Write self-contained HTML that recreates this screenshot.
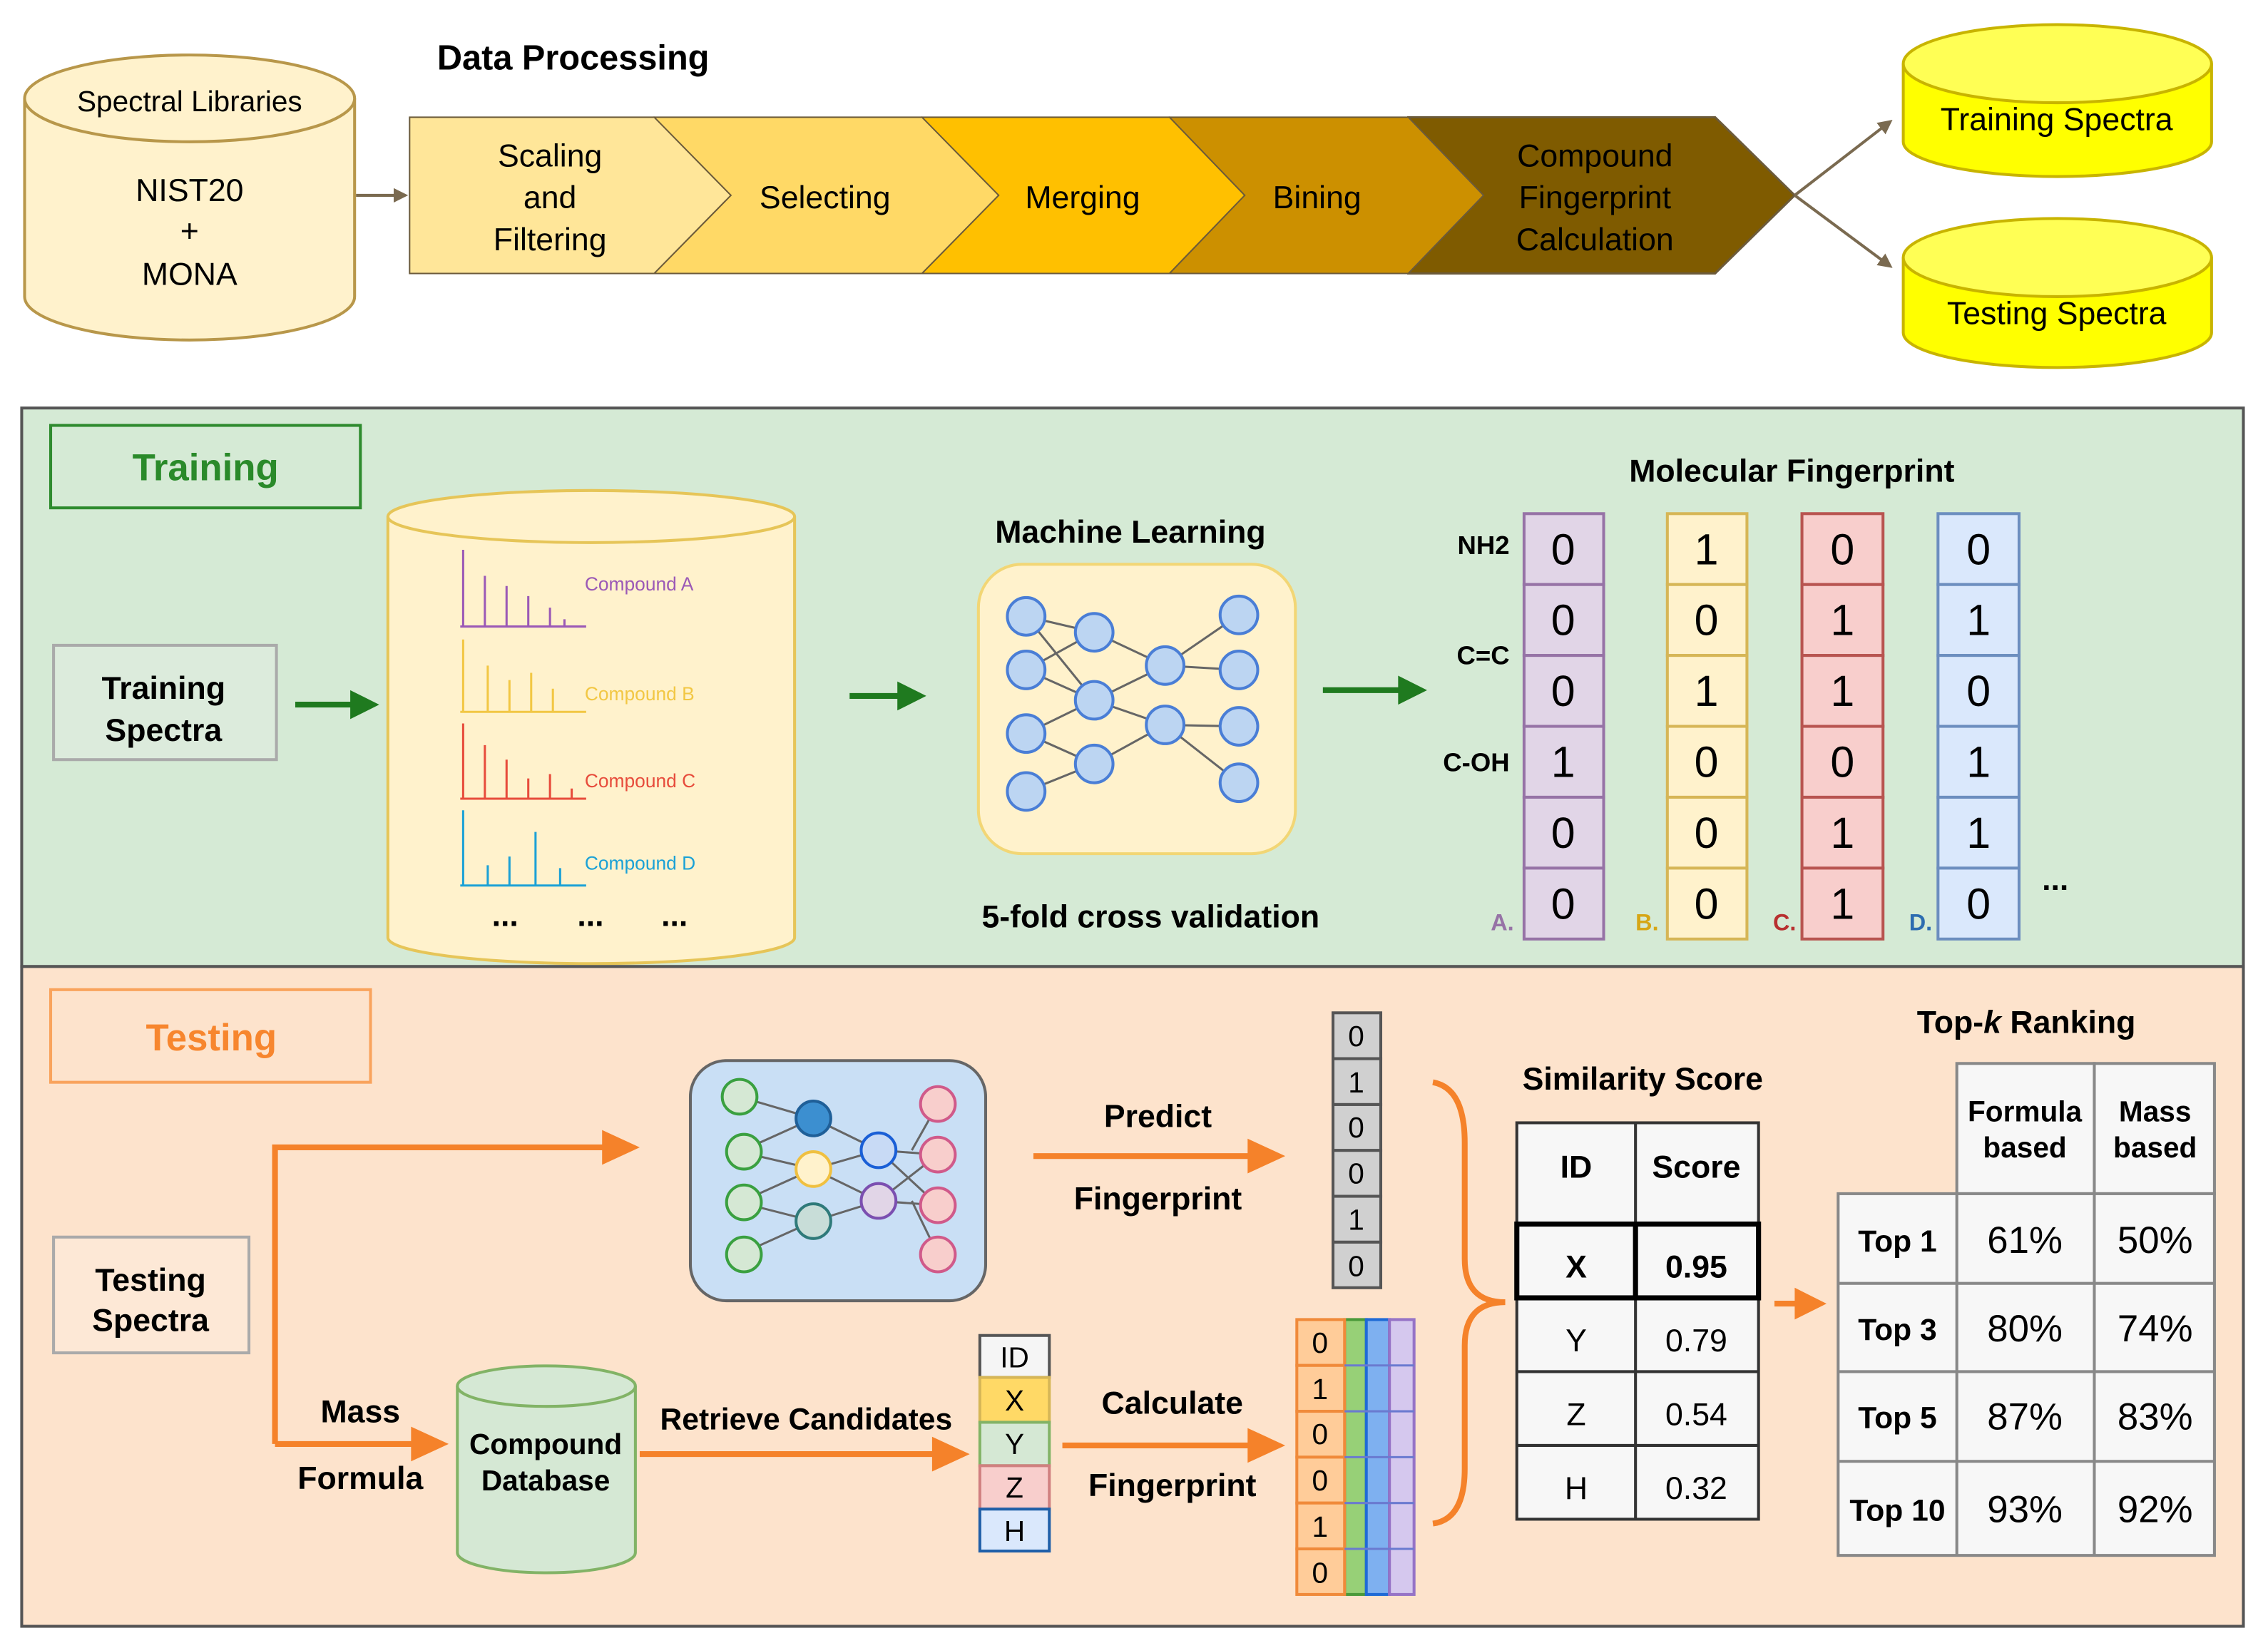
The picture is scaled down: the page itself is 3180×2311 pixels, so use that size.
<!DOCTYPE html>
<html><head><meta charset="utf-8"><style>
html,body{margin:0;padding:0;background:#fff}
svg{display:block}
text{font-family:"Liberation Sans",sans-serif}
.b{font-weight:bold}
</style></head><body>
<svg width="3180" height="2311" viewBox="0 0 1567 1139" preserveAspectRatio="none" xmlns="http://www.w3.org/2000/svg">
<defs>
<marker id="ag" markerWidth="10" markerHeight="10" refX="8" refY="5" orient="auto" markerUnits="userSpaceOnUse"><path d="M0,0 L10,5 L0,10 Z" fill="#7a6a50"/></marker>
</defs>
<rect width="1567" height="1139" fill="#fff"/>

<!-- Top section -->
<text x="302" y="48" font-size="24" class="b">Data Processing</text>
<path d="M17,68 L17,205 A114,30 0 0 0 245,205 L245,68" fill="#fff2cc" stroke="#b8974a" stroke-width="2"/>
<ellipse cx="131" cy="68" rx="114" ry="30" fill="#fff2cc" stroke="#b8974a" stroke-width="2"/>
<text x="131" y="77" font-size="20" text-anchor="middle">Spectral Libraries</text>
<text x="131" y="139" font-size="22" text-anchor="middle">NIST20</text>
<text x="131" y="167" font-size="22" text-anchor="middle">+</text>
<text x="131" y="197" font-size="22" text-anchor="middle">MONA</text>
<line x1="246" y1="135" x2="280" y2="135" stroke="#7a6a50" stroke-width="2" marker-end="url(#ag)"/>

<polygon points="973,81 1185,81 1240,135 1185,189 973,189" fill="#7f5b00" stroke="#6b5a3a" stroke-width="1.5"/>
<polygon points="808,81 973,81 1025,135 973,189 808,189" fill="#cc9000" stroke="#6b5a3a" stroke-width="1"/>
<polygon points="637,81 808,81 860,135 808,189 637,189" fill="#ffc000" stroke="#6b5a3a" stroke-width="1"/>
<polygon points="452,81 637,81 690,135 637,189 452,189" fill="#ffd966" stroke="#6b5a3a" stroke-width="1"/>
<polygon points="283,81 452,81 505,135 452,189 283,189" fill="#ffe699" stroke="#6b5a3a" stroke-width="1"/>
<g font-size="22" text-anchor="middle">
<text x="380" y="115">Scaling</text><text x="380" y="144">and</text><text x="380" y="173">Filtering</text>
<text x="570" y="144">Selecting</text>
<text x="748" y="144">Merging</text>
<text x="910" y="144">Bining</text>
<text x="1102" y="115">Compound</text><text x="1102" y="144">Fingerprint</text><text x="1102" y="173">Calculation</text>
</g>
<line x1="1240" y1="135" x2="1306" y2="84" stroke="#7a6a50" stroke-width="2" marker-end="url(#ag)"/>
<line x1="1240" y1="135" x2="1306" y2="184" stroke="#7a6a50" stroke-width="2" marker-end="url(#ag)"/>

<path d="M1315,44 L1315,98 A106.5,24 0 0 0 1528,98 L1528,44" fill="#ffff00" stroke="#c8b400" stroke-width="2"/>
<ellipse cx="1421.5" cy="44" rx="106.5" ry="27" fill="#ffff55" stroke="#c8b400" stroke-width="2"/>
<text x="1421" y="90" font-size="22" text-anchor="middle">Training Spectra</text>
<path d="M1315,178 L1315,230 A106.5,24 0 0 0 1528,230 L1528,178" fill="#ffff00" stroke="#c8b400" stroke-width="2"/>
<ellipse cx="1421.5" cy="178" rx="106.5" ry="27" fill="#ffff55" stroke="#c8b400" stroke-width="2"/>
<text x="1421" y="224" font-size="22" text-anchor="middle">Testing Spectra</text>

<!-- Training panel -->
<rect x="15" y="282" width="1535" height="386" fill="#d5ead5" stroke="#555" stroke-width="2"/>
<rect x="35" y="294" width="214" height="57" fill="#d5ead5" stroke="#2e8b2e" stroke-width="2"/>
<text x="142" y="332" font-size="26" class="b" fill="#2a8a2a" text-anchor="middle">Training</text>
<rect x="37" y="446" width="154" height="79" fill="#dcebdc" stroke="#aaa" stroke-width="2"/>
<text x="113" y="483" font-size="22" class="b" text-anchor="middle">Training</text>
<text x="113" y="512" font-size="22" class="b" text-anchor="middle">Spectra</text>
<g fill="#1f7a1f" stroke="#1f7a1f" stroke-width="4">
<line x1="204" y1="487" x2="245" y2="487"/><polygon points="262,487 242,477 242,497" stroke="none"/>
<line x1="587" y1="481" x2="623" y2="481"/><polygon points="640,481 620,471 620,491" stroke="none"/>
<line x1="914" y1="477" x2="968" y2="477"/><polygon points="986,477 966,467 966,487" stroke="none"/>
</g>
<path d="M268,357 L268,648 A140.5,18 0 0 0 549,648 L549,357" fill="#fff2cc" stroke="#e6c558" stroke-width="2"/>
<ellipse cx="408.5" cy="357" rx="140.5" ry="18" fill="#fff2cc" stroke="#e6c558" stroke-width="2"/>
<g fill="none" stroke-width="1.5">
<path d="M318,433 H405 M320,433 V380 M335,433 V398 M350,433 V405 M365,433 V412 M380,433 V420 M390,433 V428" stroke="#9b59b6"/>
<path d="M318,492 H405 M320,492 V442 M337,492 V460 M352,492 V470 M367,492 V465 M382,492 V476" stroke="#f2c744"/>
<path d="M318,552 H405 M320,552 V500 M335,552 V515 M350,552 V525 M365,552 V538 M380,552 V535 M395,552 V545" stroke="#e74c3c"/>
<path d="M318,612 H405 M320,612 V560 M337,612 V598 M352,612 V592 M370,612 V575 M387,612 V600" stroke="#1ba1d6"/>
</g>
<text x="404" y="408" font-size="13" fill="#9b59b6">Compound A</text>
<text x="404" y="484" font-size="13" fill="#f2c744">Compound B</text>
<text x="404" y="544" font-size="13" fill="#e74c3c">Compound C</text>
<text x="404" y="601" font-size="13" fill="#1ba1d6">Compound D</text>
<g font-size="22" class="b" text-anchor="middle"><text x="349" y="640">...</text><text x="408" y="640">...</text><text x="466" y="640">...</text></g>

<text x="781" y="375" font-size="22" class="b" text-anchor="middle">Machine Learning</text>
<rect x="676" y="390" width="219" height="200" rx="30" fill="#fff2cc" stroke="#f2d675" stroke-width="2"/>
<g stroke="#666" stroke-width="1.5">
<path d="M709,426 L756,437 M709,463 L756,437 M709,463 L756,484 M709,507 L756,484 M709,507 L756,528 M709,547 L756,528 M756,437 L805,460 M756,484 L805,460 M756,484 L805,501 M756,528 L805,501 M805,460 L856,425 M805,460 L856,463 M805,501 L856,502 M805,501 L856,541 M709,426 L756,484"/>
</g>
<g fill="#bcd5f2" stroke="#4a7ed6" stroke-width="2">
<circle cx="709" cy="426" r="13"/><circle cx="709" cy="463" r="13"/><circle cx="709" cy="507" r="13"/><circle cx="709" cy="547" r="13"/>
<circle cx="756" cy="437" r="13"/><circle cx="756" cy="484" r="13"/><circle cx="756" cy="528" r="13"/>
<circle cx="805" cy="460" r="13"/><circle cx="805" cy="501" r="13"/>
<circle cx="856" cy="425" r="13"/><circle cx="856" cy="463" r="13"/><circle cx="856" cy="502" r="13"/><circle cx="856" cy="541" r="13"/>
</g>
<text x="795" y="641" font-size="22" class="b" text-anchor="middle">5-fold cross validation</text>

<text x="1238" y="333" font-size="22" class="b" text-anchor="middle">Molecular Fingerprint</text>
<g font-size="18" class="b" text-anchor="end"><text x="1043" y="383">NH2</text><text x="1043" y="459">C=C</text><text x="1043" y="533">C-OH</text></g>
<g stroke-width="2">
<g fill="#e1d5e7" stroke="#9673a6"><rect x="1053" y="355" width="55" height="49"/><rect x="1053" y="404" width="55" height="49"/><rect x="1053" y="453" width="55" height="49"/><rect x="1053" y="502" width="55" height="49"/><rect x="1053" y="551" width="55" height="49"/><rect x="1053" y="600" width="55" height="49"/></g>
<g fill="#fff2cc" stroke="#d6b656"><rect x="1152" y="355" width="55" height="49"/><rect x="1152" y="404" width="55" height="49"/><rect x="1152" y="453" width="55" height="49"/><rect x="1152" y="502" width="55" height="49"/><rect x="1152" y="551" width="55" height="49"/><rect x="1152" y="600" width="55" height="49"/></g>
<g fill="#f8cecc" stroke="#b85450"><rect x="1245" y="355" width="56" height="49"/><rect x="1245" y="404" width="56" height="49"/><rect x="1245" y="453" width="56" height="49"/><rect x="1245" y="502" width="56" height="49"/><rect x="1245" y="551" width="56" height="49"/><rect x="1245" y="600" width="56" height="49"/></g>
<g fill="#dae8fc" stroke="#6c8ebf"><rect x="1339" y="355" width="56" height="49"/><rect x="1339" y="404" width="56" height="49"/><rect x="1339" y="453" width="56" height="49"/><rect x="1339" y="502" width="56" height="49"/><rect x="1339" y="551" width="56" height="49"/><rect x="1339" y="600" width="56" height="49"/></g>
</g>
<g font-size="30" text-anchor="middle">
<text x="1080" y="390">0</text><text x="1080" y="439">0</text><text x="1080" y="488">0</text><text x="1080" y="537">1</text><text x="1080" y="586">0</text><text x="1080" y="635">0</text>
<text x="1179" y="390">1</text><text x="1179" y="439">0</text><text x="1179" y="488">1</text><text x="1179" y="537">0</text><text x="1179" y="586">0</text><text x="1179" y="635">0</text>
<text x="1273" y="390">0</text><text x="1273" y="439">1</text><text x="1273" y="488">1</text><text x="1273" y="537">0</text><text x="1273" y="586">1</text><text x="1273" y="635">1</text>
<text x="1367" y="390">0</text><text x="1367" y="439">1</text><text x="1367" y="488">0</text><text x="1367" y="537">1</text><text x="1367" y="586">1</text><text x="1367" y="635">0</text>
</g>
<g font-size="16" class="b">
<text x="1030" y="643" fill="#9673a6">A.</text><text x="1130" y="643" fill="#d6a616">B.</text><text x="1225" y="643" fill="#b83030">C.</text><text x="1319" y="643" fill="#2c6cb0">D.</text>
</g>
<text x="1420" y="615" font-size="22" class="b" text-anchor="middle">...</text>

<!-- Testing panel -->
<rect x="15" y="668" width="1535" height="456" fill="#fde3cc" stroke="#555" stroke-width="2"/>
<rect x="35" y="684" width="221" height="64" fill="#fde3cc" stroke="#f9a35c" stroke-width="2"/>
<text x="146" y="726" font-size="26" class="b" fill="#f7862e" text-anchor="middle">Testing</text>
<rect x="37" y="855" width="135" height="80" fill="#fde8d6" stroke="#aaa" stroke-width="2"/>
<text x="104" y="892" font-size="22" class="b" text-anchor="middle">Testing</text>
<text x="104" y="920" font-size="22" class="b" text-anchor="middle">Spectra</text>

<g stroke="#f5822a" stroke-width="4" fill="none">
<path d="M190,998 V793 H420"/>
<path d="M190,998 H290"/>
<path d="M442,1005 H648"/>
<path d="M734,999 H866"/>
<path d="M714,799 H866"/>
<path d="M1226,901 H1244"/>
<path d="M990,748 Q1012,752 1012,790 V870 Q1012,900 1040,900 Q1012,900 1012,930 V1015 Q1012,1050 990,1053"/>
</g>
<g fill="#f5822a">
<polygon points="442,793 416,781 416,805"/>
<polygon points="310,998 284,986 284,1010"/>
<polygon points="670,1005 644,993 644,1017"/>
<polygon points="888,999 862,987 862,1011"/>
<polygon points="888,799 862,787 862,811"/>
<polygon points="1262,901 1240,890 1240,912"/>
</g>
<text x="249" y="983" font-size="22" class="b" text-anchor="middle">Mass</text>
<text x="249" y="1029" font-size="22" class="b" text-anchor="middle">Formula</text>

<path d="M316,958 L316,1073 A61.5,14 0 0 0 439,1073 L439,958" fill="#d5e8d4" stroke="#82b366" stroke-width="2"/>
<ellipse cx="377.5" cy="958" rx="61.5" ry="14" fill="#d5e8d4" stroke="#82b366" stroke-width="2"/>
<text x="377" y="1005" font-size="20" class="b" text-anchor="middle">Compound</text>
<text x="377" y="1030" font-size="20" class="b" text-anchor="middle">Database</text>
<text x="557" y="988" font-size="21" class="b" text-anchor="middle">Retrieve Candidates</text>

<g stroke-width="2">
<rect x="677" y="923" width="48" height="29" fill="#f5f5f5" stroke="#555"/>
<rect x="677" y="952" width="48" height="31" fill="#ffd966" stroke="#d6b656"/>
<rect x="677" y="983" width="48" height="30" fill="#d5e8d4" stroke="#82b366"/>
<rect x="677" y="1013" width="48" height="30" fill="#f8cecc" stroke="#d08080"/>
<rect x="677" y="1043" width="48" height="29" fill="#dae8fc" stroke="#1f5fa8"/>
</g>
<g font-size="20" text-anchor="middle">
<text x="701" y="945">ID</text><text x="701" y="975">X</text><text x="701" y="1005">Y</text><text x="701" y="1035">Z</text><text x="701" y="1065">H</text>
</g>
<text x="810" y="977" font-size="22" class="b" text-anchor="middle">Calculate</text>
<text x="810" y="1034" font-size="22" class="b" text-anchor="middle">Fingerprint</text>
<text x="800" y="779" font-size="22" class="b" text-anchor="middle">Predict</text>
<text x="800" y="836" font-size="22" class="b" text-anchor="middle">Fingerprint</text>

<rect x="477" y="733" width="204" height="166" rx="25" fill="#c9dff5" stroke="#666" stroke-width="2"/>
<g stroke="#666" stroke-width="1.5">
<path d="M511,758 L562,773 M511,796 L562,773 M511,796 L562,808 M511,831 L562,808 M511,831 L562,844 M511,867 L562,844 M562,773 L607,795 M562,808 L607,795 M562,808 L607,830 M562,844 L607,830 M607,795 L648,798 M607,795 L648,833 M607,830 L648,798 M607,830 L648,833 M630,795 L648,763 M630,830 L648,867"/>
</g>
<g stroke-width="2">
<g fill="#d5e8d4" stroke="#3aa040"><circle cx="511" cy="758" r="12"/><circle cx="514" cy="796" r="12"/><circle cx="514" cy="831" r="12"/><circle cx="514" cy="867" r="12"/></g>
<circle cx="562" cy="773" r="12" fill="#3c8fd0" stroke="#1f5f98"/>
<circle cx="562" cy="808" r="12" fill="#fff2cc" stroke="#f0c040"/>
<circle cx="562" cy="844" r="12" fill="#c8ddd8" stroke="#2f7a7a"/>
<circle cx="607" cy="795" r="12" fill="#c8daf5" stroke="#1a5fd6"/>
<circle cx="607" cy="830" r="12" fill="#e1d5e7" stroke="#7b4fb0"/>
<g fill="#f8cecc" stroke="#d05a8a"><circle cx="648" cy="763" r="12"/><circle cx="648" cy="798" r="12"/><circle cx="648" cy="833" r="12"/><circle cx="648" cy="867" r="12"/></g>
</g>

<g fill="#d0d0d0" stroke="#555" stroke-width="2">
<rect x="921" y="700" width="33" height="31.7"/><rect x="921" y="731.7" width="33" height="31.7"/><rect x="921" y="763.4" width="33" height="31.7"/><rect x="921" y="795.1" width="33" height="31.7"/><rect x="921" y="826.8" width="33" height="31.7"/><rect x="921" y="858.5" width="33" height="31.5"/>
</g>
<g font-size="20" text-anchor="middle">
<text x="937" y="723">0</text><text x="937" y="755">1</text><text x="937" y="786">0</text><text x="937" y="818">0</text><text x="937" y="850">1</text><text x="937" y="882">0</text>
</g>

<g stroke-width="2">
<rect x="929" y="912" width="15" height="190" fill="#97d077" stroke="#4a9a3a"/>
<rect x="944" y="912" width="16" height="190" fill="#7eb0f0" stroke="#1f6ad6"/>
<rect x="960" y="912" width="17" height="190" fill="#d5c8ee" stroke="#9673c6"/>
<g fill="#ffcc99" stroke="#f08a3a"><rect x="896" y="912" width="33" height="31.7"/><rect x="896" y="943.7" width="33" height="31.7"/><rect x="896" y="975.4" width="33" height="31.7"/><rect x="896" y="1007.1" width="33" height="31.7"/><rect x="896" y="1038.8" width="33" height="31.7"/><rect x="896" y="1070.5" width="33" height="31.5"/></g>
<path d="M929,943.7 H977 M929,975.4 H977 M929,1007.1 H977 M929,1038.8 H977 M929,1070.5 H977" stroke="#6a7ad0" stroke-width="1.5"/>
</g>
<g font-size="20" text-anchor="middle">
<text x="912" y="935">0</text><text x="912" y="967">1</text><text x="912" y="998">0</text><text x="912" y="1030">0</text><text x="912" y="1062">1</text><text x="912" y="1094">0</text>
</g>

<text x="1135" y="753" font-size="22" class="b" text-anchor="middle">Similarity Score</text>
<g stroke="#333" stroke-width="2">
<rect x="1048" y="776" width="167" height="274" fill="#f7f7f7"/>
<path d="M1048,846 H1215 M1048,948 H1215 M1048,999 H1215 M1130,776 V1050" fill="none"/>
<rect x="1048" y="846" width="167" height="51" fill="none" stroke="#000" stroke-width="3.5"/>
<line x1="1130" y1="846" x2="1130" y2="897" stroke-width="3.5" stroke="#000"/>
</g>
<g font-size="22" text-anchor="middle">
<text x="1089" y="814" class="b">ID</text><text x="1172" y="814" class="b">Score</text>
<text x="1089" y="883" class="b">X</text><text x="1172" y="883" class="b">0.95</text>
<text x="1089" y="934">Y</text><text x="1172" y="934">0.79</text>
<text x="1089" y="985">Z</text><text x="1172" y="985">0.54</text>
<text x="1089" y="1036">H</text><text x="1172" y="1036">0.32</text>
</g>

<text x="1400" y="714" font-size="22" class="b" text-anchor="middle">Top-<tspan font-style="italic">k</tspan> Ranking</text>
<g stroke="#888" stroke-width="2" fill="#f7f7f7">
<rect x="1352" y="735" width="95" height="90"/><rect x="1447" y="735" width="83" height="90"/>
<rect x="1270" y="825" width="260" height="250"/>
<path d="M1270,887 H1530 M1270,948 H1530 M1270,1010 H1530 M1352,825 V1075 M1447,825 V1075" fill="none"/>
</g>
<g font-size="20" class="b" text-anchor="middle">
<text x="1399" y="775">Formula</text><text x="1399" y="800">based</text>
<text x="1489" y="775">Mass</text><text x="1489" y="800">based</text>
</g>
<g font-size="21" class="b" text-anchor="middle">
<text x="1311" y="865">Top 1</text><text x="1311" y="926">Top 3</text><text x="1311" y="987">Top 5</text><text x="1311" y="1051">Top 10</text>
</g>
<g font-size="26" text-anchor="middle">
<text x="1399" y="866">61%</text><text x="1489" y="866">50%</text>
<text x="1399" y="927">80%</text><text x="1489" y="927">74%</text>
<text x="1399" y="988">87%</text><text x="1489" y="988">83%</text>
<text x="1399" y="1052">93%</text><text x="1489" y="1052">92%</text>
</g>
</svg>
</body></html>
